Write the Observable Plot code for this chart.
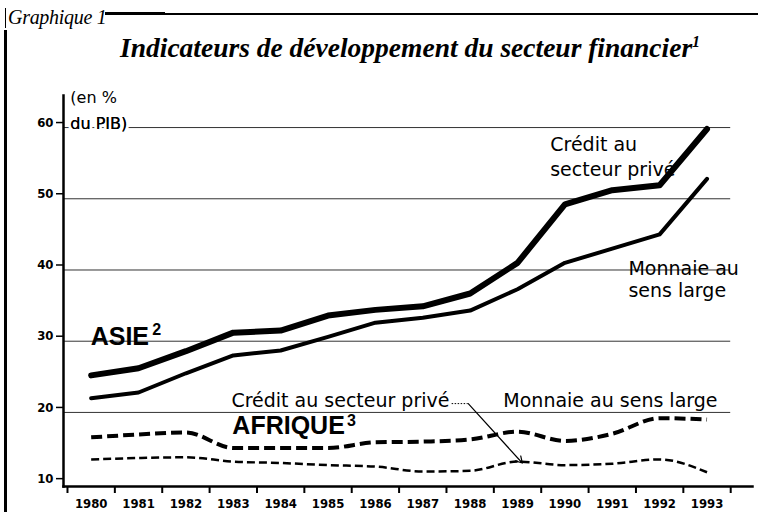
<!DOCTYPE html>
<html><head><meta charset="utf-8">
<script src="https://cdn.jsdelivr.net/npm/d3@7"></script>
<script src="https://cdn.jsdelivr.net/npm/@observablehq/plot@0.6"></script>
<style>
body{margin:0;background:#fff;}
#wrap{position:relative;width:758px;height:520px;overflow:hidden;background:#fff;}
#gr{position:absolute;left:8px;top:7px;font:italic 20px/1 "Liberation Serif",serif;color:#000;white-space:nowrap;letter-spacing:-0.3px;}
#title{position:absolute;left:120px;top:34px;font:italic bold 27.5px/1 "Liberation Serif",serif;color:#000;white-space:nowrap;}
#title sup{font-size:16px;vertical-align:10px;line-height:0;}
.rule{position:absolute;background:#000;z-index:2;}
#chart{position:absolute;left:0;top:70px;z-index:1;}
</style></head>
<body><div id="wrap">
<div class="rule" style="left:5px;top:8px;width:1px;height:20px"></div>
<div class="rule" style="left:4px;top:30px;width:3px;height:482px"></div>
<div class="rule" style="left:105px;top:13px;width:653px;height:1.5px"></div>
<div class="rule" style="left:105px;top:12px;width:60px;height:3px"></div>
<div id="gr">Graphique 1</div>
<div id="title">Indicateurs de développement du secteur financier<sup>1</sup></div>
<div id="chart"></div>
</div>
<script>
const years = [1980,1981,1982,1983,1984,1985,1986,1987,1988,1989,1990,1991,1992,1993];
const asiaCredit   = [25.2,26.2,28.6,31.2,31.5,33.6,34.4,34.9,36.7,41.0,49.2,51.2,51.9,59.8];
const asiaMonnaie  = [22.0,22.8,25.5,28.0,28.7,30.6,32.6,33.3,34.3,37.3,41.0,43.0,45.0,52.8];
const afrMonnaie   = [16.5,16.9,17.2,15.0,15.0,15.0,15.8,15.9,16.2,17.3,16.0,17.0,19.2,19.0];
const afrCredit    = [13.4,13.6,13.7,13.1,12.9,12.6,12.4,11.7,11.8,13.1,12.6,12.8,13.4,11.6];
const yTicks = [10,20,30,40,50,60];
const gridValues = [20,30,40,50,60];

const rows = years.map((year,i)=>({year, asiaCredit:asiaCredit[i], asiaMonnaie:asiaMonnaie[i], afrMonnaie:afrMonnaie[i], afrCredit:afrCredit[i]}));
const bounds = [years[0]-0.5, ...years.map(y=>y+0.5)];

const sans = "'DejaVu Sans', sans-serif";
const bold = "'Liberation Sans', Arial, sans-serif";
const narrow = "'Liberation Sans Narrow', 'DejaVu Sans Condensed', 'Liberation Sans', sans-serif";

// annotation texts (layout in data units)
const notes = [
  {text:"(en %", x:1979.56, y:64.1, size:16, font:sans, weight:"normal"},
  {text:"Crédit au", x:1989.69, y:57.5, size:19, font:sans, weight:"normal"},
  {text:"secteur privé", x:1989.69, y:54.1, size:19, font:sans, weight:"normal"},
  {text:"Monnaie au", x:1991.34, y:40.2, size:19, font:sans, weight:"normal"},
  {text:"sens large", x:1991.34, y:37.1, size:19, font:sans, weight:"normal"},
  {text:"ASIE", x:1979.99, y:30.6, size:25, font:bold, weight:"bold"},
  {text:"2", x:1981.29, y:31.6, size:16, font:bold, weight:"bold"},
  {text:"Crédit au secteur privé", x:1982.96, y:21.6, size:19, font:sans, weight:"normal"},
  {text:"Monnaie au sens large", x:1988.70, y:21.6, size:19, font:sans, weight:"normal"},
  {text:"AFRIQUE", x:1982.98, y:18.1, size:25, font:bold, weight:"bold"},
  {text:"3", x:1985.40, y:18.8, size:16, font:bold, weight:"bold"}
];
const pib = [{text:"du PIB)", x:1979.56, y:60.5}];
const leader = [{x1:1987.62, x2:1987.96, y:21.24}];
const arrow = [{x1:1987.96, y1:21.24, x2:1989.1, y2:12.9}];

const chart = Plot.plot({
  width:758, height:450,
  marginLeft:63, marginRight:6, marginTop:25, marginBottom:34,
  x:{type:"linear", domain:[1979.416, 1993.96]},
  y:{domain:[9.6, 64.5]},
  style:{fontFamily:sans, color:"#000", background:"transparent"},
  marks:[
    Plot.ruleY(gridValues, {x1:bounds[0]-0.084, x2:bounds[bounds.length-1], stroke:"#333", strokeWidth:1}),
    Plot.text(pib, {x:"x", y:"y", text:"text", textAnchor:"start", lineAnchor:"middle", fontSize:16, fontFamily:sans, fill:"#000", stroke:"#fff", strokeWidth:6}),
    Plot.text(pib, {x:"x", y:"y", text:"text", textAnchor:"start", lineAnchor:"middle", fontSize:16, fontFamily:sans, fill:"#000"}),
    Plot.frame({anchor:"left", strokeWidth:2.5, stroke:"#000"}),
    Plot.frame({anchor:"bottom", strokeWidth:2.5, stroke:"#000"}),
    Plot.axisY(yTicks, {tickSize:7, tickPadding:3, dy:-5, fontSize:13, fontWeight:"bold", fontFamily:narrow, tickFormat:d=>String(d), strokeWidth:1.5}),
    Plot.axisX(bounds, {tickSize:7, tickFormat:()=>"", strokeWidth:2}),
    Plot.axisX(years, {tickSize:0, tickPadding:12, fontSize:13, fontWeight:"bold", fontFamily:narrow, tickFormat:d=>String(d)}),
    Plot.line(rows, {x:"year", y:"asiaCredit", stroke:"#000", strokeWidth:6}),
    Plot.line(rows, {x:"year", y:"asiaMonnaie", stroke:"#000", strokeWidth:4}),
    Plot.line(rows, {x:"year", y:"afrMonnaie", stroke:"#000", strokeWidth:4, strokeDasharray:"11,5", strokeLinecap:"butt", curve:"monotone-x"}),
    Plot.line(rows, {x:"year", y:"afrCredit", stroke:"#000", strokeWidth:2.5, strokeDasharray:"8,4", strokeLinecap:"butt", curve:"monotone-x"}),
    Plot.ruleY(leader, {x1:"x1", x2:"x2", y:"y", stroke:"#000", strokeWidth:1, strokeDasharray:"1.5,1.5"}),
    Plot.arrow(arrow, {x1:"x1", y1:"y1", x2:"x2", y2:"y2", stroke:"#000", strokeWidth:1.2, headLength:9}),
    ...notes.map(n => Plot.text([n], {x:"x", y:"y", text:"text", textAnchor:"start", lineAnchor:"middle", fontSize:n.size, fontFamily:n.font, fontWeight:n.weight, fill:"#000"}))
  ]
});
document.getElementById("chart").appendChild(chart);
</script>
</body></html>
